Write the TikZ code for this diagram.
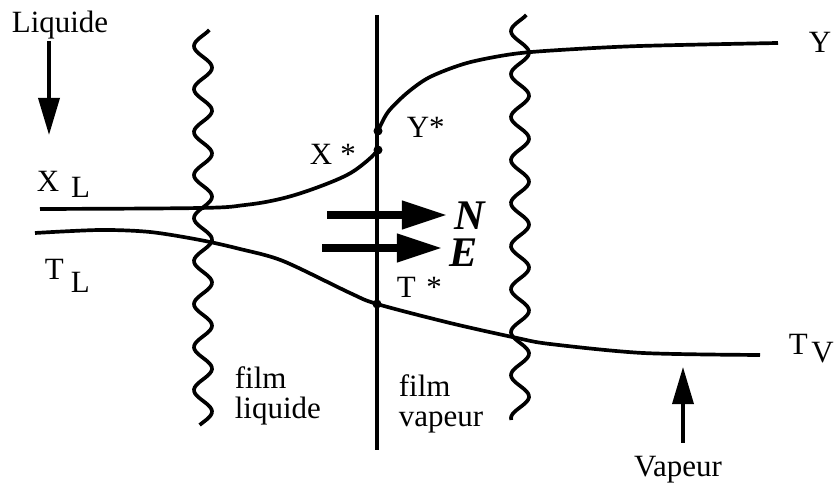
\documentclass[tikz,border=0pt]{standalone}
\usepackage{fontspec}
\setmainfont{Liberation Serif}
\usetikzlibrary{arrows.meta}
\begin{document}
\begin{tikzpicture}[x=0.01cm, y=-0.01cm, line width=1.05pt,
  every node/.style={font=\rmfamily\fontsize{8.8}{8.4}\selectfont, inner sep=0pt},
  flow/.style={line width=1pt, -{Triangle[length=0.37cm, width=0.21cm]}},
  flux/.style={line width=2.1pt, -{Triangle[length=0.45cm, width=0.27cm]}},
  bigsym/.style={font=\rmfamily\fontsize{12}{14}\selectfont\bfseries\itshape, inner sep=0.06cm},
  dot/.style={fill, circle, inner sep=0pt, minimum size=0.09cm}]
  \useasboundingbox (0,0) rectangle (836,483);

  % films (wavy boundaries)
  \draw plot[domain=0:395, samples=200] ({203+9*cos(\x*8.372+45)}, {30+\x});
  \draw plot[domain=0:405, samples=200] ({520+9*cos(\x*8.372+45)}, {15+\x});

  % interface
  \coordinate (itop) at (377,15);
  \coordinate (ibot) at (377,450);
  \draw (itop) -- (ibot);

  % profiles
  \coordinate (xs) at (378,150);
  \coordinate (ys) at (378,131);
  \coordinate (ts) at (377,304);
  \draw plot[smooth, tension=0.6] coordinates {(40,209) (200,208) (245,205) (280,199) (313,189) (347,175) (367,161) (xs)};
  \draw plot[smooth] coordinates {(ys) (388,112) (407,93) (430,77) (467,63) (513,54) (560,50) (640,46) (778,43)};
  \draw plot[smooth] coordinates {(35,233) (100,230) (150,232) (200,240) (240,249) (283,261) (350,293) (ts) (450,323) (517,338) (550,344) (643,353) (760,355)};
  \node[dot] (dxs) at (xs) {};
  \node[dot] (dys) at (ys) {};
  \node[dot] (dts) at (ts) {};

  % labels
  \node[anchor=base] (liq) at (60,33) {Liquide};
  \coordinate (liqtip) at (49,135);
  \draw[flow] (liq.south -| liqtip) -- (liqtip);

  \node[anchor=base west] (xl) at (35,192) {X\hspace{3.4pt}\raisebox{-1.7pt}{L}};
  \node[anchor=base west] (tl) at (43,280) {T\hspace{2pt}\raisebox{-3.7pt}{L}};
  \node[anchor=base west] (y) at (807,53) {Y};
  \node[anchor=base west] (tv) at (787,355) {T\hspace{1pt}\raisebox{-2pt}{V}};
  \node[anchor=base west] (xstar) at (308,165) {X\hspace{2.3pt}*};
  \node[anchor=base west] (ystar) at (405,138) {Y*};
  \node[anchor=base west] (tstar) at (395,298) {T\hspace{3pt}*};

  % fluxes
  \node[bigsym, anchor=base west] (n) at (447,230) {N};
  \node[bigsym, anchor=base west] (e) at (442,267) {E};
  \coordinate (ns) at (327,215);
  \coordinate (es) at (322,248);
  \draw[flux] (ns) -- (ns -| n.west);
  \draw[flux] (es) -- (es -| e.west);

  \node[anchor=north west, align=left] (fl) at (233,365) {film\\liquide};
  \node[anchor=north west, align=left] (fv) at (397,373) {film\\vapeur};

  \node[anchor=base] (vap) at (678,477) {Vapeur};
  \coordinate (vbase) at (683,443);
  \coordinate (vtip) at (683,367);
  \draw[flow] (vbase) -- (vtip);
\end{tikzpicture}
\end{document}
